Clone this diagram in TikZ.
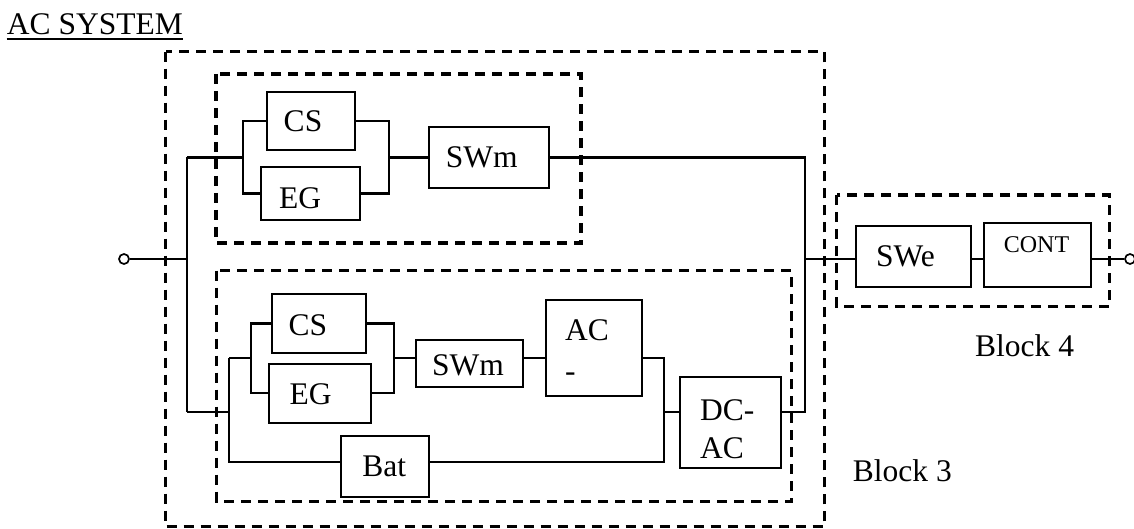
\documentclass[tikz,border=0pt]{standalone}
\usepackage{fontspec}
\setmainfont{Liberation Serif}
\tikzset{
  wire/.style={line width=2.1pt, line join=miter},
  box/.style={draw, line width=2.1pt, inner sep=0pt, fill=white},
  grp/.style={draw, line width=3.2pt, dash pattern=on 10pt off 7pt},
  lbl/.style={inner sep=0pt, font=\fontsize{31.5}{38}\selectfont},
  small/.style={inner sep=0pt, font=\fontsize{24}{29}\selectfont},
  term/.style={draw, circle, line width=1.7pt, minimum size=10pt, inner sep=0pt, fill=white}
}
\begin{document}
\begin{tikzpicture}[x=1pt,y=-1pt]
\useasboundingbox (0,0) rectangle (1134,529);
% group boxes
\draw[grp] (165.7,51.7) rectangle (824.3,526.7);
\draw[grp] (216,74) rectangle (581,243);
\draw[grp] (216.7,270.7) rectangle (791.7,501.2);
\draw[grp] (836.7,195) rectangle (1109.3,306.7);
% terminals
\node[term] (in) at (124,259) {};
\node[term] (out) at (1130,259) {};
% blocks
\node[box, minimum width=88.3pt, minimum height=58pt] (cs1) at (310.8,121) {};
\node[box, minimum width=99pt, minimum height=53pt] (eg1) at (310.5,193.5) {};
\node[box, minimum width=120pt, minimum height=61pt] (swm1) at (489,157.5) {};
\node[box, minimum width=94pt, minimum height=59pt] (cs2) at (318.7,323.5) {};
\node[box, minimum width=101.7pt, minimum height=58.7pt] (eg2) at (319.8,393.3) {};
\node[box, minimum width=107pt, minimum height=47.3pt] (swm2) at (469.2,363.7) {};
\node[box, minimum width=96.3pt, minimum height=95.7pt] (ac) at (594.2,347.8) {};
\node[box, minimum width=88.6pt, minimum height=61.6pt] (bat) at (385,466.5) {};
\node[box, minimum width=101pt, minimum height=90.7pt] (dcac) at (730.5,422.3) {};
\node[box, minimum width=114.7pt, minimum height=61pt] (swe) at (913.3,256.2) {};
\node[box, minimum width=107pt, minimum height=64pt] (cont) at (1037.2,254.7) {};
% block texts
\node[lbl] (cs1t) at (303,121) {CS};
\node[lbl] (eg1t) at (300,198.3) {EG};
\node[lbl] (swm1t) at (481.8,157.2) {SWm};
\node[lbl] (cs2t) at (307.8,325.5) {CS};
\node[lbl] (eg2t) at (310.7,394.2) {EG};
\node[lbl] (swm2t) at (468,365.5) {SWm};
\node[lbl] (batt) at (384.2,466) {Bat};
\node[lbl] (swet) at (905.5,256) {SWe};
\node[small] (contt) at (1036.5,245) {CONT};
\node[lbl, anchor=base west] (act1) at (565,340.7) {AC};
\node[lbl, anchor=base west] (act2) at (565,381) {-};
\node[lbl, anchor=base west] (dct1) at (700,420) {DC-};
\node[lbl, anchor=base west] (dct2) at (700,458.3) {AC};
% labels
\node[lbl, anchor=base west] (title) at (6.7,34.3) {AC SYSTEM};
\draw[line width=1.6pt] ([yshift=-5pt]title.base west) -- ([yshift=-5pt]title.base east);
\node[lbl, anchor=base west] (b4) at (975,356.7) {Block 4};
\node[lbl, anchor=base west] (b3) at (852.7,481.7) {Block 3};
% wiring points
\coordinate (jin) at (187,259);
\coordinate (jtop) at (187,157.5);
\coordinate (jbot) at (187,412.3);
\coordinate (tbl) at (242.7,157.5);
\coordinate (tbr) at (389,157.5);
\coordinate (jout) at (805,259);
\coordinate (bj) at (229.3,412.3);
\coordinate (bbl) at (229.3,358.3);
\coordinate (bbat) at (229.3,462.3);
\coordinate (bb2l) at (250.7,358.3);
\coordinate (bb2r) at (394.3,358.3);
\coordinate (acj) at (664.3,358.3);
\coordinate (dcj) at (664.3,411.7);
\coordinate (batj) at (664.3,462.3);
\coordinate (dco) at (805,411.7);
% wires
\draw[wire] (in.east) -- (jin);
\draw[wire] (jtop) -- (jbot);
\draw[wire] (jtop) -- (tbl);
\draw[wire] (cs1.west) -| (tbl) |- (eg1.west);
\draw[wire] (cs1.east) -| (tbr) |- (eg1.east);
\draw[wire] (tbr) -- (swm1.west);
\draw[wire] (swm1.east) -| (jout);
\draw[wire] (jout) -- (jout -| swe.west);
\draw[wire] (jout -| swe.east) -- (jout -| cont.west);
\draw[wire] (jout -| cont.east) -- (out.west);
\draw[wire] (jbot) -- (bj);
\draw[wire] (bbl) -- (bbat) -- (bbat -| bat.west);
\draw[wire] (bbl) -- (bb2l);
\draw[wire] (cs2.west) -| (bb2l) |- (eg2.west);
\draw[wire] (cs2.east) -| (bb2r) |- (eg2.east);
\draw[wire] (bb2r) -- (bb2r -| swm2.west);
\draw[wire] (bb2r -| swm2.east) -- (bb2r -| ac.west);
\draw[wire] (acj -| ac.east) -- (acj) -- (batj) -- (batj -| bat.east);
\draw[wire] (dcj) -- (dcj -| dcac.west);
\draw[wire] (dcj -| dcac.east) -- (dco) -- (jout);
\end{tikzpicture}
\end{document}
